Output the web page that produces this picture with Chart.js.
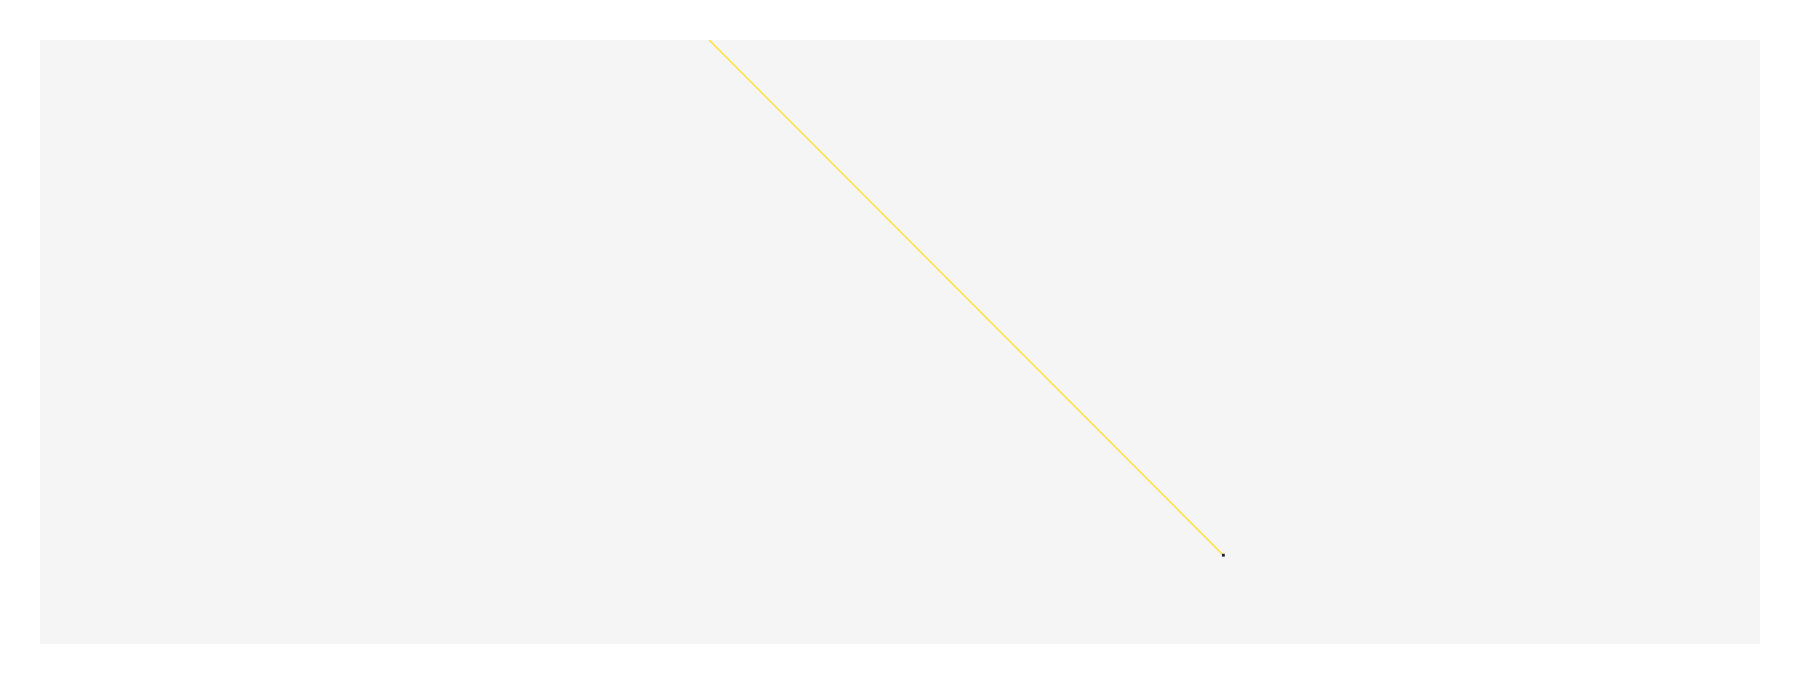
<!DOCTYPE html>
<html>
<head>
<meta charset="utf-8">
<script src="https://cdn.jsdelivr.net/npm/chart.js@4/dist/chart.umd.min.js"></script>
<style>
  html, body { margin: 0; padding: 0; background: #ffffff; }
  #wrap { width: 1800px; height: 684px; }
</style>
</head>
<body>
<div id="wrap"><canvas id="chart" width="1800" height="684"></canvas></div>
<script>
// values (axes hidden, 0..100 both ways)
const xValues = [38.9, 68.8];
const yValues = [100, 14.7];
const pointSizes = [0, 2];

const points = xValues.map((x, i) => ({ x: x, y: yValues[i] }));

// grey fill behind the plot area
const areaBg = {
    id: 'areaBg',
    beforeDraw(chart) {
        const a = chart.chartArea;
        const ctx = chart.ctx;
        ctx.save();
        ctx.fillStyle = '#f5f5f5';
        ctx.fillRect(a.left, a.top, a.right - a.left, a.bottom - a.top);
        ctx.restore();
    }
};

new Chart(document.getElementById('chart').getContext('2d'), {
    type: 'line',
    data: {
        datasets: [{
            data: points,
            borderColor: '#ffe135',
            borderWidth: 1.5,
            pointStyle: 'rect',
            pointRadius: pointSizes,
            pointBackgroundColor: '#222222',
            pointBorderColor: '#222222',
            pointBorderWidth: 0,
            tension: 0,
            fill: false
        }]
    },
    options: {
        responsive: false,
        animation: false,
        layout: { padding: { left: 40, right: 40, top: 40, bottom: 40 } },
        scales: {
            x: { type: 'linear', min: 0, max: 100, display: false },
            y: { type: 'linear', min: 0, max: 100, display: false }
        },
        plugins: { legend: { display: false }, tooltip: { enabled: false } }
    },
    plugins: [areaBg]
});
</script>
</body>
</html>
